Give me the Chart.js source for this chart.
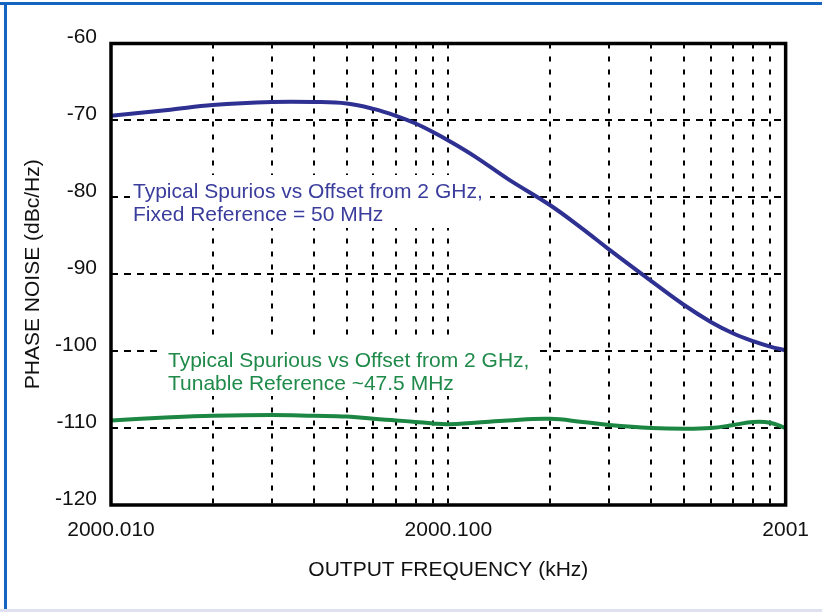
<!DOCTYPE html>
<html><head><meta charset="utf-8">
<script src="https://cdn.jsdelivr.net/npm/chart.js@4/dist/chart.umd.min.js"></script>
<style>html,body{margin:0;padding:0;background:#fff;}canvas{display:block;}</style>
</head><body>
<canvas id="c" width="822" height="612"></canvas>
<script>
// Offset from 2000 kHz (kHz), log axis
const offsetKHz = [0.01,0.015,0.02,0.03,0.04,0.05,0.06,0.07,0.08,0.09,0.1,0.12,0.15,0.2,0.25,0.3,0.4,0.5,0.6,0.7,0.8,0.9,1.0];
const fixedRefDb = [-69.4,-68.6,-68.0,-67.6,-67.6,-67.8,-68.5,-69.4,-70.4,-71.5,-72.6,-74.7,-77.6,-81.0,-84.1,-86.8,-90.9,-94.0,-96.2,-97.7,-98.7,-99.4,-99.9];
const tunableRefDb = [-109.0,-108.6,-108.4,-108.3,-108.4,-108.5,-108.8,-109.0,-109.2,-109.4,-109.5,-109.3,-109.0,-108.8,-109.2,-109.6,-110.0,-110.1,-110.0,-109.6,-109.2,-109.3,-110.0];
const xGridValues = [0.01,0.02,0.03,0.04,0.05,0.06,0.07,0.08,0.09,0.1,0.2,0.3,0.4,0.5,0.6,0.7,0.8,0.9,1];
const xTickValues = [0.01,0.1,1];
const xTickLabels = ['2000.010','2000.100','2001'];
const yTickValues = [-60,-70,-80,-90,-100,-110,-120];
const fixedNote = ['Typical Spurios vs Offset from 2 GHz,','Fixed Reference = 50 MHz'];
const tunableNote = ['Typical Spurious vs Offset from 2 GHz,','Tunable Reference ~47.5 MHz'];
const xTitle = 'OUTPUT FREQUENCY (kHz)';
const yTitle = 'PHASE NOISE (dBc/Hz)';

const FONT = '"Liberation Sans", Arial, Helvetica, sans-serif';
const BLUE = '#2e3192';
const GREEN = '#1b8743';

const deco = {
  id: 'deco',
  beforeDraw(chart) {
    const ctx = chart.ctx;
    ctx.save();
    ctx.fillStyle = '#fff';
    ctx.fillRect(0, 0, chart.width, chart.height);
    ctx.fillStyle = '#1565c0';
    ctx.fillRect(0, 2, chart.width, 3);
    ctx.fillRect(4, 2, 3, chart.height);
    ctx.fillStyle = '#dfe0f0';
    ctx.fillRect(0, chart.height - 3, chart.width, 3);
    ctx.restore();
  },
  beforeDatasetsDraw(chart) {
    const ctx = chart.ctx;
    ctx.save();
    const notes = [
      {lines: fixedNote, color: '#3a3d9c', box: [130, 175, 360, 53], x: 133, y: 198},
      {lines: tunableNote, color: '#1f8a4a', box: [163, 342, 374, 54], x: 168, y: 367}
    ];
    ctx.font = '21px ' + FONT;
    ctx.textBaseline = 'alphabetic';
    ctx.textAlign = 'left';
    for (const n of notes) {
      ctx.fillStyle = '#fff';
      ctx.fillRect(n.box[0], n.box[1], n.box[2], n.box[3]);
      ctx.fillStyle = n.color;
      n.lines.forEach((t, i) => ctx.fillText(t, n.x, n.y + i * 22.5));
    }
    ctx.restore();
  },
  afterDatasetsDraw(chart) {
    const {ctx, chartArea: a} = chart;
    ctx.save();
    ctx.strokeStyle = '#000';
    ctx.lineWidth = 3.5;
    ctx.strokeRect(a.left, a.top, a.right - a.left, a.bottom - a.top);
    ctx.restore();
  }
};

new Chart(document.getElementById('c'), {
  type: 'line',
  data: {
    labels: offsetKHz,
    datasets: [
      {label: 'Fixed Reference = 50 MHz', data: offsetKHz.map((x, i) => ({x, y: fixedRefDb[i]})),
       borderColor: BLUE, borderWidth: 4, pointRadius: 0, tension: 0.4, fill: false},
      {label: 'Tunable Reference ~47.5 MHz', data: offsetKHz.map((x, i) => ({x, y: tunableRefDb[i]})),
       borderColor: GREEN, borderWidth: 4, pointRadius: 0, tension: 0.4, fill: false}
    ]
  },
  options: {
    responsive: false,
    animation: false,
    devicePixelRatio: 1,
    layout: {padding: {top: 43.5, right: 33.5, left: 0, bottom: 0}},
    plugins: {legend: {display: false}, tooltip: {enabled: false}},
    scales: {
      x: {
        type: 'logarithmic', min: 0.01, max: 1,
        afterFit(s) { s.height = 107; },
        afterBuildTicks(s) { s.ticks = xGridValues.map(v => ({value: v})); },
        grid: {color: '#000', lineWidth: 2, drawTicks: false},
        border: {display: false, dash: [5, 8]},
        ticks: {
          autoSkip: false, maxRotation: 0, padding: 13, color: '#111',
          font: {family: FONT, size: 21},
          callback(v) {
            const i = xTickValues.findIndex(t => Math.abs(t - v) < 1e-9);
            return i >= 0 ? xTickLabels[i] : '';
          }
        },
        title: {display: true, text: xTitle, color: '#111', font: {family: FONT, size: 21}, padding: {top: 0, bottom: 29}}
      },
      y: {
        type: 'linear', min: -120, max: -60,
        afterFit(s) { s.width = 111; },
        afterBuildTicks(s) { s.ticks = yTickValues.map(v => ({value: v})); },
        grid: {color: '#000', lineWidth: 2, drawTicks: false},
        border: {display: false, dash: [7, 6]},
        ticks: {padding: 14, labelOffset: -6, color: '#111', font: {family: FONT, size: 21}},
        title: {display: true, text: yTitle, color: '#111', font: {family: FONT, size: 21}, padding: {top: 21, bottom: 0}}
      }
    }
  },
  plugins: [deco]
});
</script>
</body></html>
